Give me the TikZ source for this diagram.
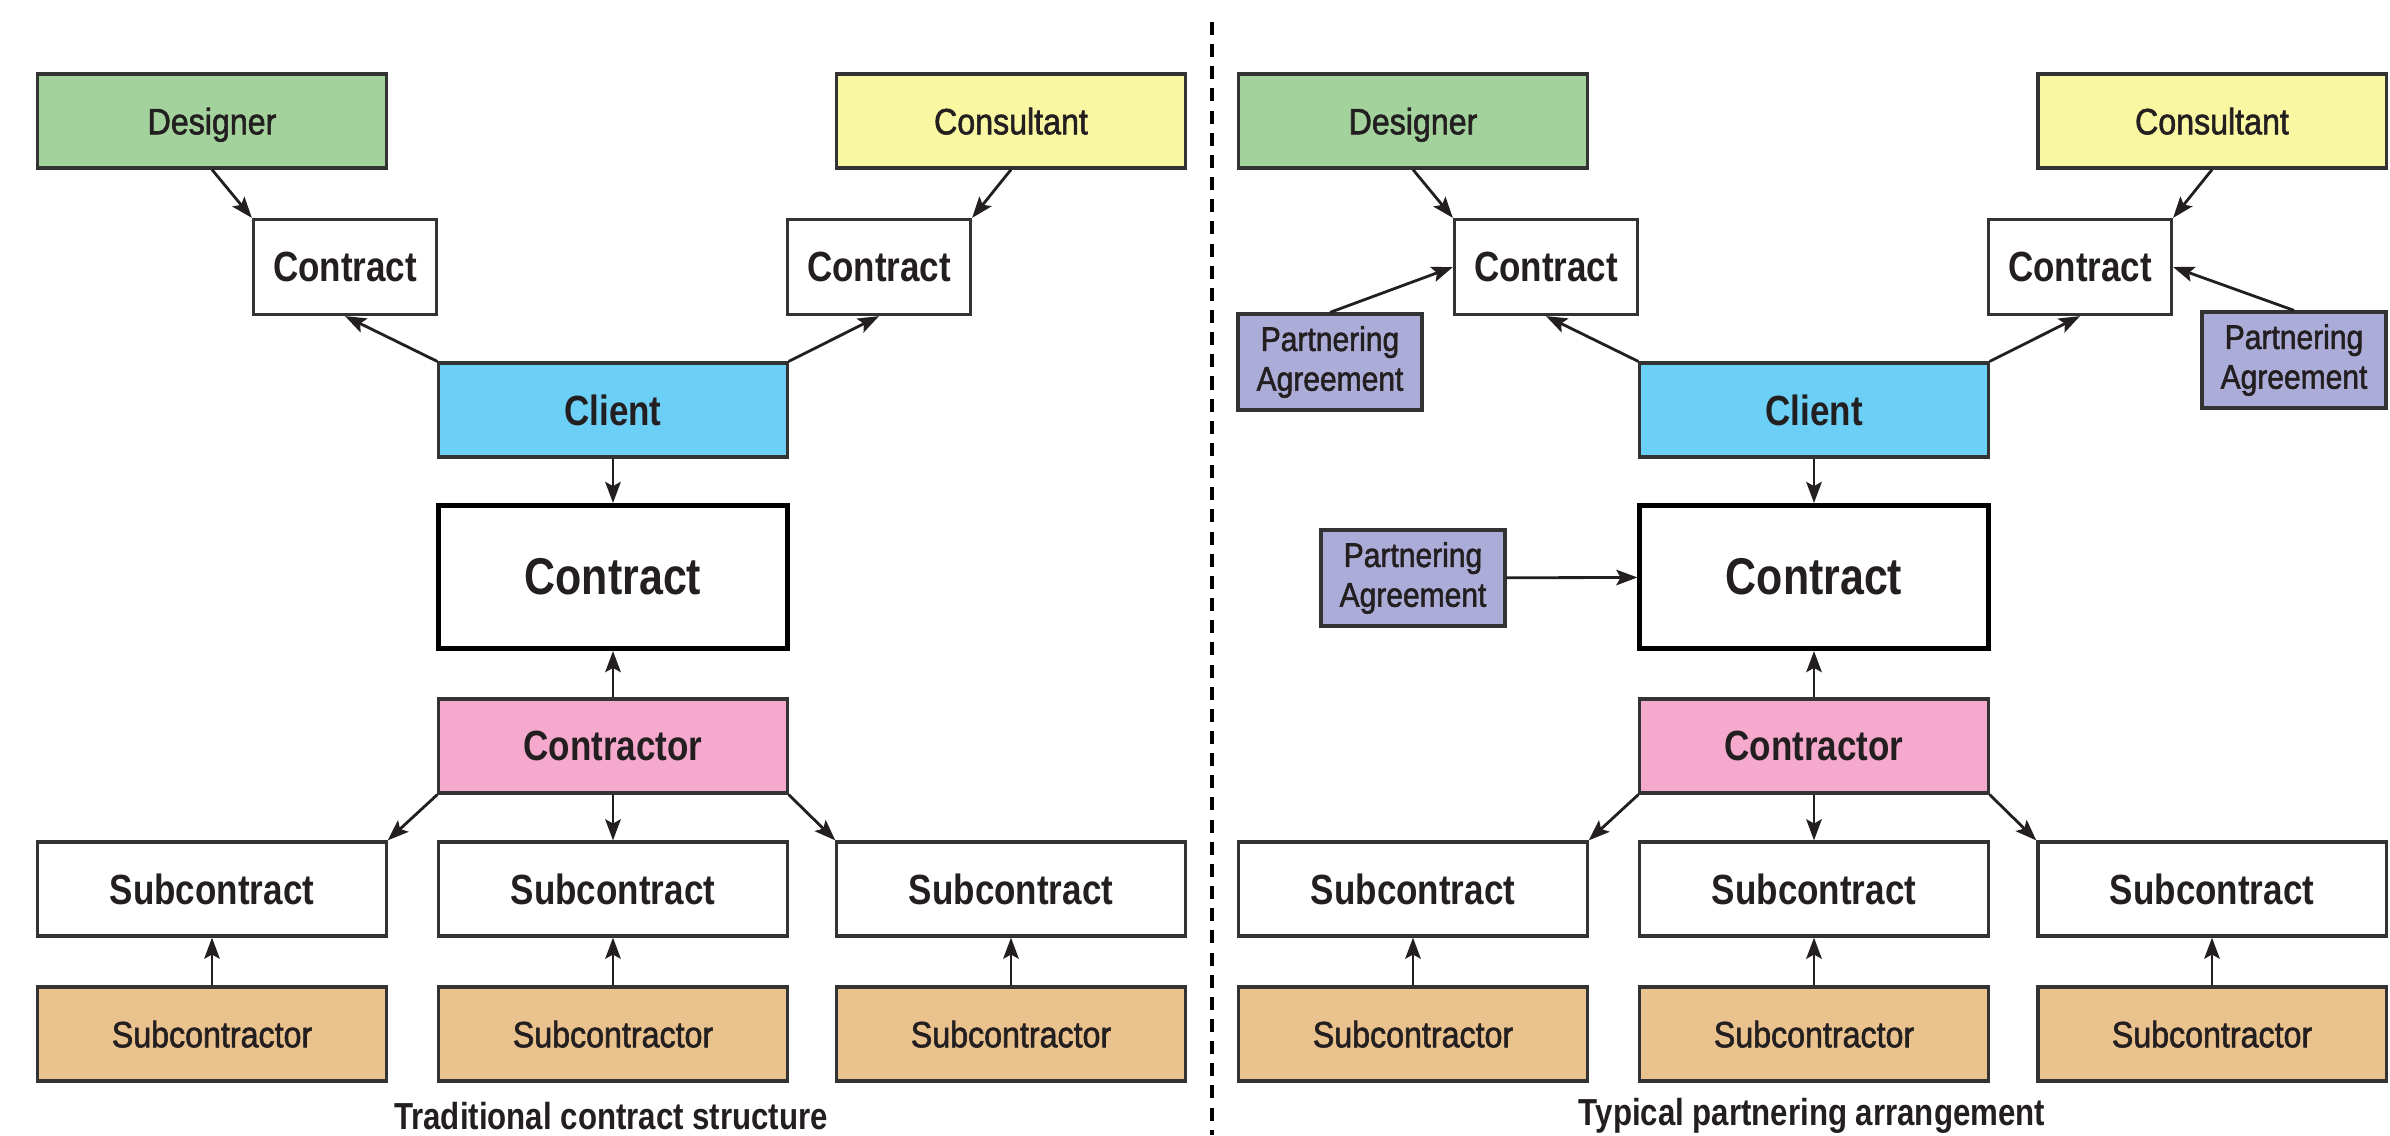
\documentclass[tikz,border=0pt]{standalone}
\usepackage{fontspec}
\setmainfont[FakeStretch=0.88, FakeBold=1.6]{Liberation Sans}
\newfontfamily\heavy[FakeStretch=0.83]{Liberation Sans Bold}
\usetikzlibrary{arrows.meta}

\definecolor{edgegray}{HTML}{333333}
\definecolor{inkblack}{HTML}{231F20}
\definecolor{designerfill}{HTML}{A4D29C}
\definecolor{consultantfill}{HTML}{FAF7A2}
\definecolor{clientfill}{HTML}{6CCFF6}
\definecolor{contractorfill}{HTML}{F4A9CD}
\definecolor{subfill}{HTML}{EAC28D}
\definecolor{partnerfill}{HTML}{ACACD8}

\tikzset{
	box/.style={draw=edgegray, line width=0.9pt, inner sep=0pt, text=inkblack,
		minimum width=3.48cm, minimum height=0.94cm},
	party/.style={box, text depth=0pt, font=\fontsize{10.4}{12}\selectfont},
	role/.style={box, font=\heavy\fontsize{12}{14}\selectfont},
	deal/.style={box, minimum width=1.83cm, minimum height=0.95cm,
		font=\heavy\fontsize{12}{14}\selectfont},
	maindeal/.style={box, draw=black, line width=1.4pt, minimum height=1.43cm,
		font=\heavy\fontsize{14.7}{17}\selectfont},
	partner/.style={box, fill=partnerfill, minimum width=1.84cm, minimum height=0.96cm,
		align=center, font=\fontsize{9.7}{11.3}\selectfont},
	link/.style={-{Stealth[length=6pt,width=4.4pt,inset=1.2pt]}, line width=0.8pt, draw=inkblack},
	caption/.style={text=inkblack, font=\heavy\fontsize{10.7}{12}\selectfont}
}

\begin{document}
\begin{tikzpicture}[x=0.01cm,y=-0.01cm]
	\useasboundingbox (0,0) rectangle (2390,1135);
	%divider
	\coordinate (divtop) at (1212,22);
	\coordinate (divbot) at (1212,1135);
	\draw[line width=1.1pt, dash pattern=on 3.7pt off 2.6pt] (divtop) -- (divbot);

	%traditional structure
		% parties
		\node[party, fill=designerfill] (designerL) at (212,121) {Designer};
		\node[party, fill=consultantfill] (consultantL) at (1011,121) {Consultant};
		\node[deal] (dealAL) at (345,267) {Contract};
		\node[deal] (dealBL) at (879,267) {Contract};
		\node[role, fill=clientfill] (clientL) at (613,410) {Client};
		\node[maindeal] (mainL) at (613,577) {Contract};
		\node[role, fill=contractorfill] (contractorL) at (613,746) {Contractor};
		% subcontracts
		\node[role] (subdealAL) at (212,889) {Subcontract};
		\node[role] (subdealBL) at (613,889) {Subcontract};
		\node[role] (subdealCL) at (1011,889) {Subcontract};
		\node[party, fill=subfill] (subAL) at (212,1034) {Subcontractor};
		\node[party, fill=subfill] (subBL) at (613,1034) {Subcontractor};
		\node[party, fill=subfill] (subCL) at (1011,1034) {Subcontractor};
		\node[caption] (capL) at (611,1116) {Traditional contract structure};
		% links
		\draw[link] (designerL.south) -- (dealAL.north west);
		\draw[link] (consultantL.south) -- (dealBL.north east);
		\draw[link] (clientL.north west) -- (dealAL.south);
		\draw[link] (clientL.north east) -- (dealBL.south);
		\draw[link] (clientL) -- (mainL);
		\draw[link] (contractorL) -- (mainL);
		\draw[link] (contractorL.south west) -- (subdealAL.north east);
		\draw[link] (contractorL) -- (subdealBL);
		\draw[link] (contractorL.south east) -- (subdealCL.north west);
		\draw[link] (subAL) -- (subdealAL);
		\draw[link] (subBL) -- (subdealBL);
		\draw[link] (subCL) -- (subdealCL);

	%partnering arrangement
		% parties
		\node[party, fill=designerfill] (designerR) at (1413,121) {Designer};
		\node[party, fill=consultantfill] (consultantR) at (2212,121) {Consultant};
		\node[deal] (dealAR) at (1546,267) {Contract};
		\node[deal] (dealBR) at (2080,267) {Contract};
		\node[role, fill=clientfill] (clientR) at (1814,410) {Client};
		\node[maindeal] (mainR) at (1814,577) {Contract};
		\node[role, fill=contractorfill] (contractorR) at (1814,746) {Contractor};
		% partnering agreements
		\node[partner] (pactA) at (1330,362) {Partnering\\Agreement};
		\node[partner] (pactB) at (2294,360) {Partnering\\Agreement};
		\node[partner] (pactC) at (1413,578) {Partnering\\Agreement};
		% subcontracts
		\node[role] (subdealAR) at (1413,889) {Subcontract};
		\node[role] (subdealBR) at (1814,889) {Subcontract};
		\node[role] (subdealCR) at (2212,889) {Subcontract};
		\node[party, fill=subfill] (subAR) at (1413,1034) {Subcontractor};
		\node[party, fill=subfill] (subBR) at (1814,1034) {Subcontractor};
		\node[party, fill=subfill] (subCR) at (2212,1034) {Subcontractor};
		\node[caption] (capR) at (1812,1116) {Typical partnering arrangement};
		% links
		\draw[link] (designerR.south) -- (dealAR.north west);
		\draw[link] (consultantR.south) -- (dealBR.north east);
		\draw[link] (clientR.north west) -- (dealAR.south);
		\draw[link] (clientR.north east) -- (dealBR.south);
		\draw[link] (clientR) -- (mainR);
		\draw[link] (contractorR) -- (mainR);
		\draw[link] (pactA.north) -- (dealAR.west);
		\draw[link] (pactB.north) -- (dealBR.east);
		\draw[link] (pactC) -- (mainR);
		\draw[link] (contractorR.south west) -- (subdealAR.north east);
		\draw[link] (contractorR) -- (subdealBR);
		\draw[link] (contractorR.south east) -- (subdealCR.north west);
		\draw[link] (subAR) -- (subdealAR);
		\draw[link] (subBR) -- (subdealBR);
		\draw[link] (subCR) -- (subdealCR);
\end{tikzpicture}
\end{document}
